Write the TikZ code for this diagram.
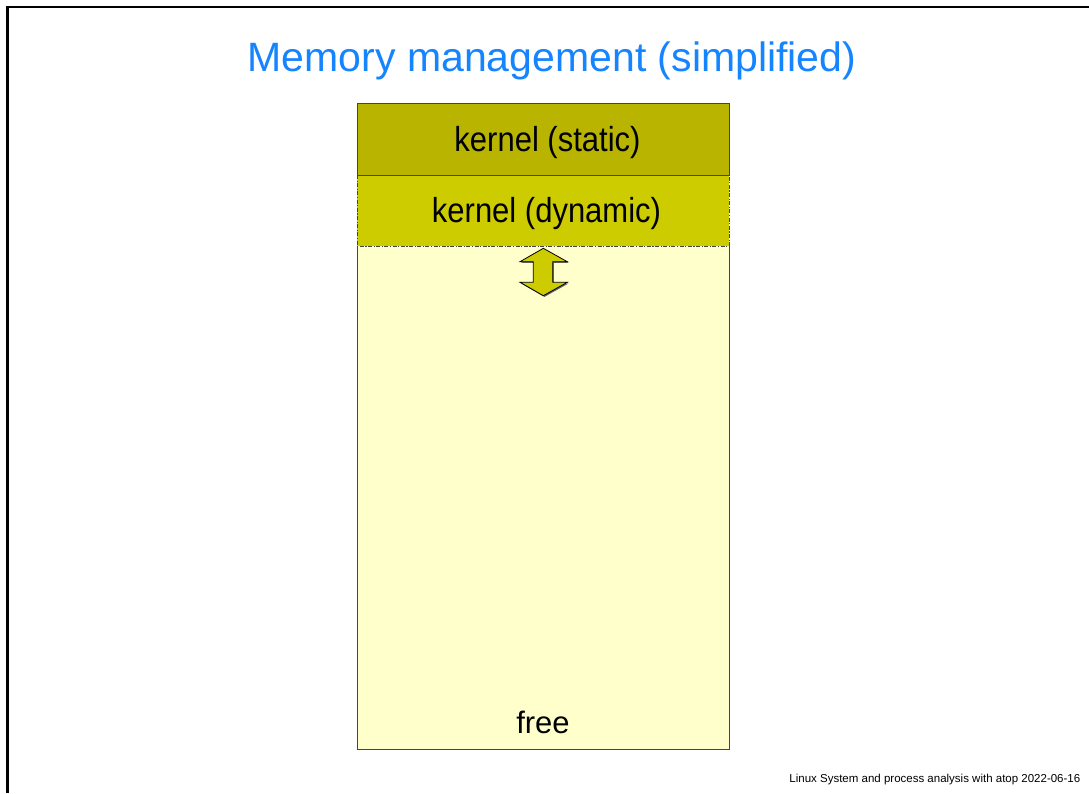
\documentclass[tikz,border=0pt]{standalone}
\usepackage{fontspec}
\usepackage{graphicx}
\setmainfont{Liberation Sans}
\definecolor{titleblue}{RGB}{20,132,255}
\definecolor{kstatic}{RGB}{184,180,0}
\definecolor{kdynamic}{RGB}{204,204,0}
\definecolor{freemem}{RGB}{255,255,204}
\definecolor{edgegray}{RGB}{70,70,60}
\newcommand{\tallertext}[1]{\scalebox{1}[1.12]{#1}}
\begin{document}
\begin{tikzpicture}[x=1pt,y=-1pt,
  region/.style={draw=edgegray, line width=0.9pt},
  boxtext/.style={anchor=base, inner sep=0pt, font=\fontsize{31}{36}\selectfont},
  titletext/.style={anchor=base, inner sep=0pt, text=titleblue, font=\fontsize{41}{48}\selectfont},
  foottext/.style={anchor=base east, inner sep=0pt, font=\fontsize{11.5}{13}\selectfont},
  growarrow/.style={fill=kdynamic, draw=black, line width=0.8pt, line join=miter}
]
\useasboundingbox (0,0) rectangle (1089,793);
\fill[white] (0,0) rectangle (1089,793);

% slide frame (top and left edges)
\draw[line width=2.3pt] (7.5,793) -- (7.5,7) -- (1089,7);

% title
\node[titletext] (title) at (552,71.7) {Memory management (simplified)};

% memory column: free area (open at the top, where the dynamic area ends)
\fill[freemem] (357,246) rectangle (729,749.3);
\draw[region] (357,246) -- (357,749.3) -- (729,749.3) -- (729,246);
\path[region, fill=kdynamic, dash pattern=on 4pt off 1.5pt on 1.2pt off 1.5pt] (357,175) rectangle (729,246);
\path[region, fill=kstatic] (357,103.3) rectangle (729,175);

\node[boxtext] (static)  at (547.5,151.5) {\tallertext{kernel (static)}};
\node[boxtext] (dynamic) at (546.5,222.7) {\tallertext{kernel (dynamic)}};
\node[boxtext] (free)    at (543,733.3) {free};

% double-headed arrow: the dynamic kernel area grows and shrinks
\fill[black!60, shift={(1.2,1.2)}]
  (543.3,248.3) -- (520,261.7) -- (533.3,261.7) -- (533.3,282.3) -- (520,282.3)
  -- (543.3,295.7) -- (567.3,282.3) -- (552.7,282.3) -- (552.7,261.7) -- (567.3,261.7) -- cycle;
\path[growarrow]
  (543.3,248.3) -- (520,261.7) -- (533.3,261.7) -- (533.3,282.3) -- (520,282.3)
  -- (543.3,295.7) -- (567.3,282.3) -- (552.7,282.3) -- (552.7,261.7) -- (567.3,261.7) -- cycle;

% footer
\node[foottext] (footer) at (1080.5,782.5) {Linux System and process analysis with atop 2022-06-16};
\end{tikzpicture}
\end{document}
